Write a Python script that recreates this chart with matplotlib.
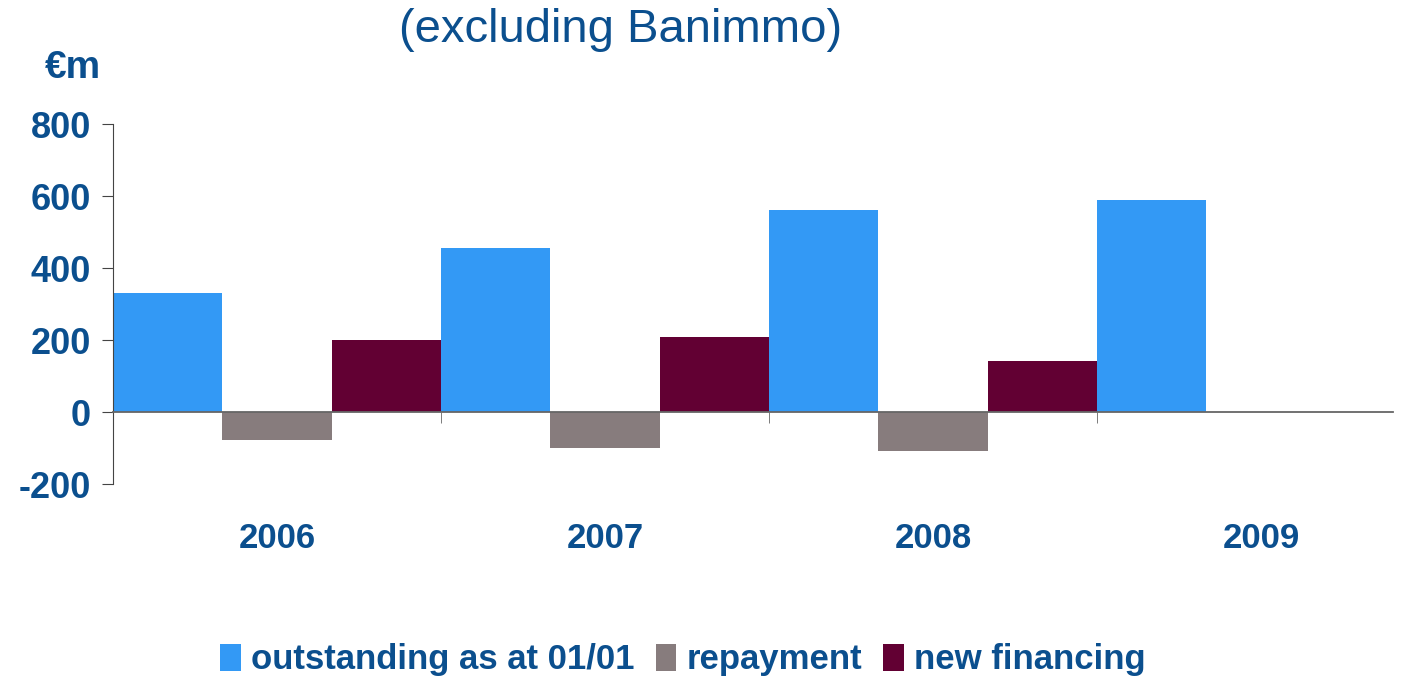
import numpy as np
import matplotlib.pyplot as plt
from matplotlib import font_manager

years = ["2006", "2007", "2008", "2009"]
outstanding = [330, 457, 563, 590]
repayment = [-78, -100, -108, 0]
new_financing = [200, 210, 141, 0]
series_names = ["outstanding as at 01/01", "repayment", "new financing"]
y_ticks = [-200, 0, 200, 400, 600, 800]

BLUE = "#3399F5"
GREY = "#877C7D"
MAROON = "#620033"
NAVY = "#0B4F8E"

names = {f.name for f in font_manager.fontManager.ttflist}
main_font = "Liberation Sans" if "Liberation Sans" in names else "DejaVu Sans"
narrow_font = "Liberation Sans Narrow" if "Liberation Sans Narrow" in names else main_font
plt.rcParams["font.family"] = [main_font, "DejaVu Sans"]

fig = plt.figure(figsize=(14.07, 6.79), dpi=100)
ax = fig.add_axes([113 / 1407, 1 - 484 / 679, (1393 - 113) / 1407, (484 - 124.3) / 679])

x = np.arange(len(years))
w = 1 / 3
bars = []
bars.append(ax.bar(x - w, outstanding, w, color=BLUE, label=series_names[0]))
mask = [i for i in range(len(years)) if repayment[i] != 0]
bars.append(ax.bar(x[mask], [repayment[i] for i in mask], w, color=GREY, label=series_names[1]))
mask = [i for i in range(len(years)) if new_financing[i] != 0]
bars.append(ax.bar(x[mask] + w, [new_financing[i] for i in mask], w, color=MAROON, label=series_names[2]))

ax.set_xlim(-0.5, 3.5 - 32 / 328)
ax.set_ylim(-200, 800)

for s in ["top", "right"]:
    ax.spines[s].set_visible(False)
ax.spines["left"].set_color("#444444")
ax.spines["bottom"].set_position(("data", 0))
ax.spines["bottom"].set_color("#666666")
ax.spines["bottom"].set_linewidth(1.3)
ax.spines["bottom"].set_zorder(5)

ax.set_yticks(y_ticks)
ax.set_yticklabels([str(v) for v in y_ticks], fontsize=26, fontweight="bold", color=NAVY)
ax.tick_params(axis="y", length=8, color="#444444", pad=8)

ax.set_xticks(x)
ax.set_xticklabels(years, fontsize=25, fontweight="bold", color=NAVY)
ax.tick_params(axis="x", which="major", length=0, pad=79)
ax.set_xticks(x[:-1] + 0.5, minor=True)
ax.tick_params(axis="x", which="minor", length=8, color="#666666", direction="out")

fig.text(621 / 1407, 1 - 30 / 679, "(excluding Banimmo)", fontsize=34,
         color=NAVY, ha="center", va="center")
fig.text(73 / 1407, 1 - 68 / 679, "€m", fontsize=28, fontweight="bold",
         color=NAVY, ha="center", va="center")

leg = fig.legend(handles=bars, loc="center", bbox_to_anchor=(683 / 1407, 1 - 660 / 679),
                 ncol=3, frameon=False, handlelength=0.6, handleheight=0.8,
                 handletextpad=0.3, columnspacing=0.6,
                 prop={"family": narrow_font, "size": 25, "weight": "bold"})
for t in leg.get_texts():
    t.set_color(NAVY)

fig.savefig("out.png", dpi=100)
